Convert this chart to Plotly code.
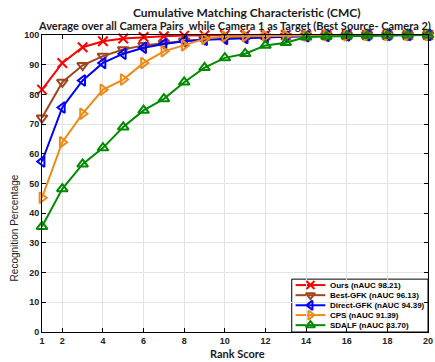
import plotly.graph_objects as go

# Rank axis
ranks = list(range(1, 21))

# CMC curves (recognition percentage at each rank)
ours = [81.6, 90.6, 95.9, 97.9, 98.8, 99.3, 99.6, 99.8, 99.9, 100, 100, 100, 100, 100, 100, 100, 100, 100, 100, 100]
best_gfk = [72.1, 84.1, 89.8, 92.9, 95.1, 96.5, 97.2, 98.0, 98.5, 99.0, 99.2, 99.4, 99.6, 99.7, 99.8, 99.9, 100, 100, 100, 100]
direct_gfk = [57.4, 75.6, 84.7, 90.6, 93.7, 95.7, 97.0, 97.9, 98.4, 98.7, 99.0, 99.2, 99.4, 99.6, 99.7, 99.8, 99.9, 100, 100, 100]
cps = [45.2, 63.9, 73.5, 81.6, 85.0, 90.6, 94.5, 96.5, 98.7, 99.5, 99.6, 99.7, 99.8, 99.8, 99.9, 99.9, 100, 100, 100, 100]
sdalf = [35.5, 48.2, 56.5, 62.0, 69.0, 74.6, 78.5, 84.1, 89.0, 92.3, 93.7, 96.5, 97.4, 99.3, 99.5, 99.7, 99.8, 99.9, 100, 100]

names = ["Ours (nAUC 98.21)", "Best-GFK (nAUC 96.13)", "Direct-GFK (nAUC 94.39)",
         "CPS (nAUC 91.39)", "SDALF (nAUC 83.70)"]
series = [ours, best_gfk, direct_gfk, cps, sdalf]
colors = ["#FF0000", "#A0461E", "#0000FF", "#EE8A18", "#008A00"]
symbols = ["x-thin-open", "triangle-down-open", "triangle-left-open", "triangle-right-open", "triangle-up-open"]

x_ticks = [1, 2, 4, 6, 8, 10, 12, 14, 16, 18, 20]
y_ticks = list(range(0, 101, 10))

fig = go.Figure()
for vals, name, col, sym in zip(series, names, colors, symbols):
    fig.add_trace(go.Scatter(
        x=ranks, y=vals, name=name, mode="lines+markers",
        line=dict(color=col, width=2),
        marker=dict(symbol=sym, size=9.5, color=col, line=dict(color=col, width=2)),
        cliponaxis=False, showlegend=False,
    ))

# Hand-built legend box in the lower-right corner
W, H = 391.0, 297.0
lx0, lx1 = 0.647, 1.0
ly1 = 0.178
row_y = [0.158, 0.124, 0.090, 0.057, 0.023]
samp_x0, samp_x1 = 0.657, 0.734
fig.add_shape(type="rect", xref="paper", yref="paper", x0=lx0, x1=lx1, y0=0, y1=ly1,
              line=dict(color="black", width=1), fillcolor="white", layer="between")
for yy, name, col, sym in zip(row_y, names, colors, symbols):
    fig.add_shape(type="line", xref="paper", yref="paper", x0=samp_x0, x1=samp_x1, y0=yy, y1=yy,
                  line=dict(color=col, width=2), layer="between")
    fig.add_annotation(x=samp_x1 + 0.006, y=yy, xref="paper", yref="paper", text=name,
                       showarrow=False, xanchor="left", yanchor="middle",
                       font=dict(family="Liberation Sans", size=8, color="black", weight="bold"))
fig.add_trace(go.Scatter(
    x=[(samp_x0 + samp_x1) / 2] * 5, y=row_y, mode="markers", xaxis="x2", yaxis="y2",
    marker=dict(symbol=symbols, size=8, color=colors, line=dict(color=colors, width=2)),
    showlegend=False, hoverinfo="skip", cliponaxis=False,
))

title_font = dict(family="Lato", size=11, color="#1A1A1A", weight="bold")
fig.add_annotation(x=0.532, y=(H + 22.5) / H, xref="paper", yref="paper",
                   text="Cumulative Matching Characteristic (CMC)", showarrow=False,
                   xanchor="center", yanchor="middle", font=dict(title_font, size=12))
fig.add_annotation(x=0.498, y=(H + 9.5) / H, xref="paper", yref="paper",
                   text="Average over all Camera Pairs&nbsp; while Camera 1 as Target (Best Source- Camera 2)",
                   showarrow=False, xanchor="center", yanchor="middle", font=title_font)
fig.add_annotation(x=0.506, y=-21 / H, xref="paper", yref="paper", text="Rank Score",
                   showarrow=False, xanchor="center", yanchor="middle", font=title_font)
fig.add_annotation(x=-28 / W, y=0.35, xref="paper", yref="paper", text="Recognition Percentage",
                   showarrow=False, xanchor="center", yanchor="middle", textangle=-90,
                   font=dict(family="Liberation Sans", size=10, color="#222222"))

axis_common = dict(showline=True, linecolor="black", linewidth=1, mirror="ticks",
                   ticks="inside", ticklen=4, tickcolor="black", showgrid=True,
                   gridcolor="#E3E3E3", gridwidth=1, zeroline=False, ticklabeloverflow="allow",
                   tickfont=dict(family="Liberation Sans", size=9, color="#222222", weight="bold"))

fig.update_layout(
    width=435, height=362,
    margin=dict(l=42, r=2, t=35, b=30),
    paper_bgcolor="white", plot_bgcolor="white",
    xaxis=dict(range=[1, 20], tickvals=x_ticks, **axis_common),
    yaxis=dict(range=[0, 100], tickvals=y_ticks, **axis_common),
    xaxis2=dict(range=[0, 1], overlaying="x", visible=False, domain=[0, 1]),
    yaxis2=dict(range=[0, 1], overlaying="y", visible=False, domain=[0, 1]),
    showlegend=False,
)

fig.write_html("out.html")
